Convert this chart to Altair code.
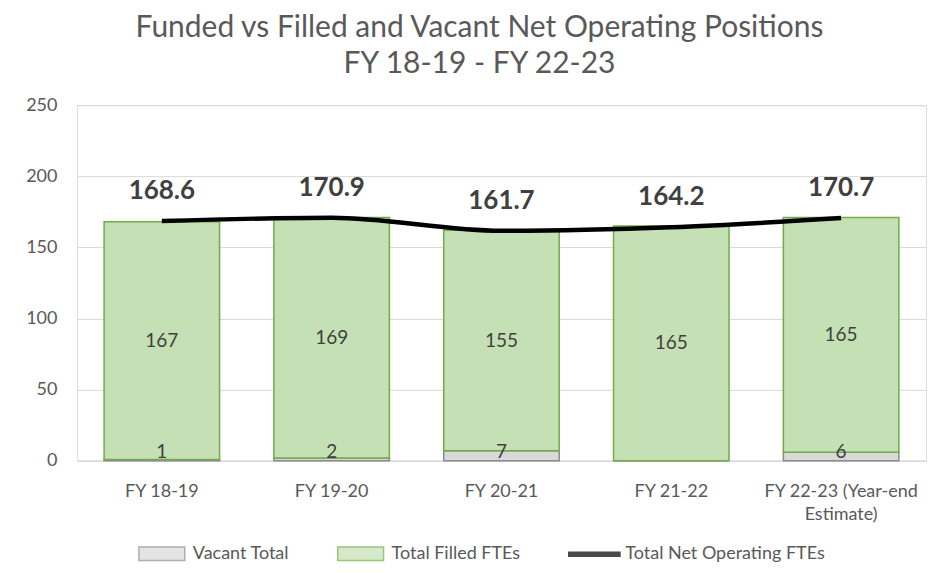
import altair as alt
import pandas as pd

years = ["FY 18-19", "FY 19-20", "FY 20-21", "FY 21-22", "FY 22-23 (Year-end|Estimate)"]
vacant = [1, 2, 7, 0, 6]
filled = [167, 169, 155, 165, 165]
net = [168.6, 170.9, 161.7, 164.2, 170.7]

series = ["Vacant Total", "Total Filled FTEs", "Total Net Operating FTEs"]
fills = ["#D9D9D9", "#C5E0B4", "#000000"]
strokes = ["#8C8C8C", "#70AD47", "#000000"]
shapes = ["M-3.4,-1H3.4V1H-3.4Z", "M-3.4,-1H3.4V1H-3.4Z", "M-3.8,-0.3H3.8V0.3H-3.8Z"]

FONT = "Lato"
TXT = "#404040"
GREY = "#595959"

rows = []
for y, v, f in zip(years, vacant, filled):
    rows.append({"year": y, "series": series[0], "value": v, "ord": 0})
    rows.append({"year": y, "series": series[1], "value": f, "ord": 1})
bars_df = pd.DataFrame(rows)

lab_df = pd.DataFrame({
    "year": years,
    "vacant": vacant,
    "filled": filled,
    "fmid": [v + f / 2 for v, f in zip(vacant, filled)],
    "vpos": [max(v / 2, 6) for v in vacant],
})
line_df = pd.DataFrame({"year": years, "net": net, "series": series[2]})

xscale = alt.Scale(paddingInner=0.32, paddingOuter=0.16)
yscale = alt.Scale(domain=[0, 250], nice=False, zero=True)

xenc = alt.X("year:N", sort=years, title=None, scale=xscale,
             axis=alt.Axis(labelExpr="split(datum.value, '|')", labelAngle=0, ticks=False,
                           domainColor="#D9D9D9", domainWidth=1.5, labelPadding=22,
                           labelLineHeight=23, labelFontSize=18, labelColor=GREY,
                           labelFont=FONT))
xs = alt.X("year:N", sort=years, scale=xscale)

fill_scale = alt.Scale(domain=series, range=fills)
stroke_scale = alt.Scale(domain=series, range=strokes)
shape_scale = alt.Scale(domain=series, range=shapes)

leg = alt.Legend(orient="none", legendX=76, legendY=440, direction="horizontal",
                 symbolSize=182, labelOffset=22, columnPadding=45, labelLimit=400,
                 labelFontSize=18, labelColor=GREY, labelFont=FONT,
                 symbolStrokeWidth=1.5, title=None)

bars = alt.Chart(bars_df).mark_bar(strokeWidth=1.5).encode(
    x=xenc,
    y=alt.Y("value:Q", stack="zero", title=None, scale=yscale,
            axis=alt.Axis(values=[0, 50, 100, 150, 200, 250], ticks=False, domain=False,
                          gridColor="#D9D9D9", gridWidth=1, labelFontSize=18,
                          labelColor=GREY, labelFont=FONT, labelPadding=20)),
    fill=alt.Fill("series:N", scale=fill_scale, title=None, legend=leg),
    stroke=alt.Stroke("series:N", scale=stroke_scale, title=None, legend=leg),
    order=alt.Order("ord:Q"),
)

# empty point layer: only carries the legend symbol shapes
legend_shapes = alt.Chart(line_df).transform_filter("false").mark_point(filled=True).encode(
    x=xs, y=alt.Y("net:Q", scale=yscale),
    shape=alt.Shape("series:N", scale=shape_scale, title=None, legend=leg),
    fill=alt.Fill("series:N", scale=fill_scale, title=None, legend=leg),
    stroke=alt.Stroke("series:N", scale=stroke_scale, title=None, legend=leg),
)

flab = alt.Chart(lab_df).mark_text(fontSize=19, color=TXT, font=FONT, baseline="middle").encode(
    x=xs, y=alt.Y("fmid:Q", scale=yscale), text=alt.Text("filled:Q"))

vlab = alt.Chart(lab_df).transform_filter("datum.vacant > 0").mark_text(
    fontSize=19, color=TXT, font=FONT, baseline="middle").encode(
    x=xs, y=alt.Y("vpos:Q", scale=yscale), text=alt.Text("vacant:Q"))

line = alt.Chart(line_df).mark_line(strokeWidth=4.5, interpolate="monotone").encode(
    x=xs, y=alt.Y("net:Q", scale=yscale),
    stroke=alt.Stroke("series:N", scale=stroke_scale, title=None, legend=leg))

nlab = alt.Chart(line_df).mark_text(fontSize=26, fontWeight="bold", color=TXT, font=FONT,
                                     baseline="middle", dy=-30).encode(
    x=xs, y=alt.Y("net:Q", scale=yscale), text=alt.Text("net:Q", format=".1f"))

chart = alt.layer(bars, legend_shapes, flab, vlab, line, nlab).properties(
    width=850, height=356,
    title=alt.TitleParams(["Funded vs Filled and Vacant Net Operating Positions", "FY 18-19 - FY 22-23"],
                          fontSize=30, font=FONT, fontWeight="normal", color=GREY,
                          lineHeight=36, offset=17, anchor="middle", dx=-22),
    autosize=alt.AutoSizeParams(type="none"),
    padding={"left": 69, "top": 97, "right": 8, "bottom": 104},
).configure_view(stroke=None).configure(background="white")

chart.save("out.html", embed_options={"renderer": "svg", "actions": False})
